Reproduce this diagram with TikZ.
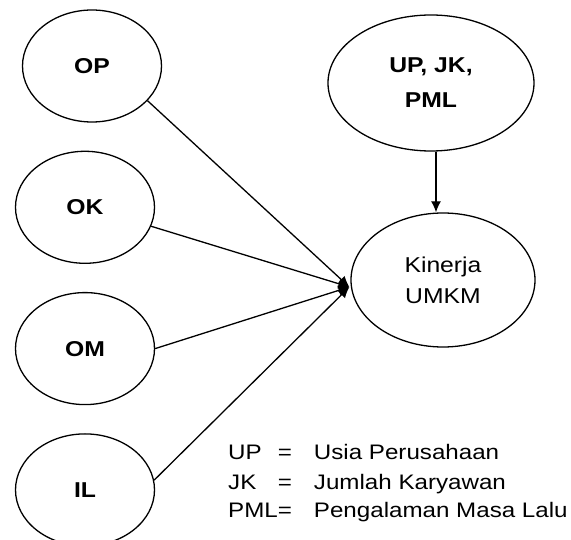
\documentclass[tikz,border=0pt]{standalone}
\usepackage{fontspec}
\setmainfont{Liberation Sans}[FakeStretch=1.15]
\usetikzlibrary{arrows.meta, positioning, shapes.geometric}

\begin{document}
\begin{tikzpicture}[
    x=1pt, y=-1pt,
    node distance=28pt,
    var/.style={draw, ellipse, line width=1.3pt, inner sep=0pt, minimum width=139pt, minimum height=112pt, align=center, font=\fontsize{21.5pt}{30pt}\selectfont\bfseries},
    big/.style={draw, ellipse, line width=1.3pt, inner sep=0pt, align=center, font=\fontsize{21.5pt}{31pt}\selectfont},
    arrow/.style={-{Latex[length=11pt, width=10pt]}, line width=1.3pt}
]
\useasboundingbox (0,0) rectangle (571,540);

\node[var] (op) at (92,66) {OP};
\node[var, below=of op, xshift=-7pt] (ok) {OK};
\node[var, below=of ok] (om) {OM};
\node[var, below=of om] (il) {IL};

\node[big, minimum width=206pt, minimum height=136pt, font=\fontsize{21.5pt}{35pt}\selectfont\bfseries] (upjk) at (431,83) {UP, JK,\\PML};
\node[big, minimum width=184pt, minimum height=134pt] (kinerja) at (443,280) {Kinerja\\UMKM};

\coordinate (hit) at ([xshift=-1pt, yshift=-7pt]kinerja.west);

\draw[arrow] (op.-32) -- (hit);
\draw[arrow] (ok.-16) -- (hit);
\draw[arrow] (om.east) -- (hit);
\draw[arrow] (il.8) -- (hit);

\draw[arrow] ([xshift=5pt]upjk.south) -- ([xshift=-7pt]kinerja.north);

\node[anchor=base west, inner sep=0pt, font=\fontsize{21pt}{29pt}\selectfont] (legend) at (228,460) {%
  \begin{tabular}[t]{@{}l@{}c@{\hspace{22pt}}l@{}}
    UP  & = & Usia Perusahaan\\
    JK  & = & Jumlah Karyawan\\
    PML & = & Pengalaman Masa Lalu
  \end{tabular}};
\end{tikzpicture}
\end{document}
